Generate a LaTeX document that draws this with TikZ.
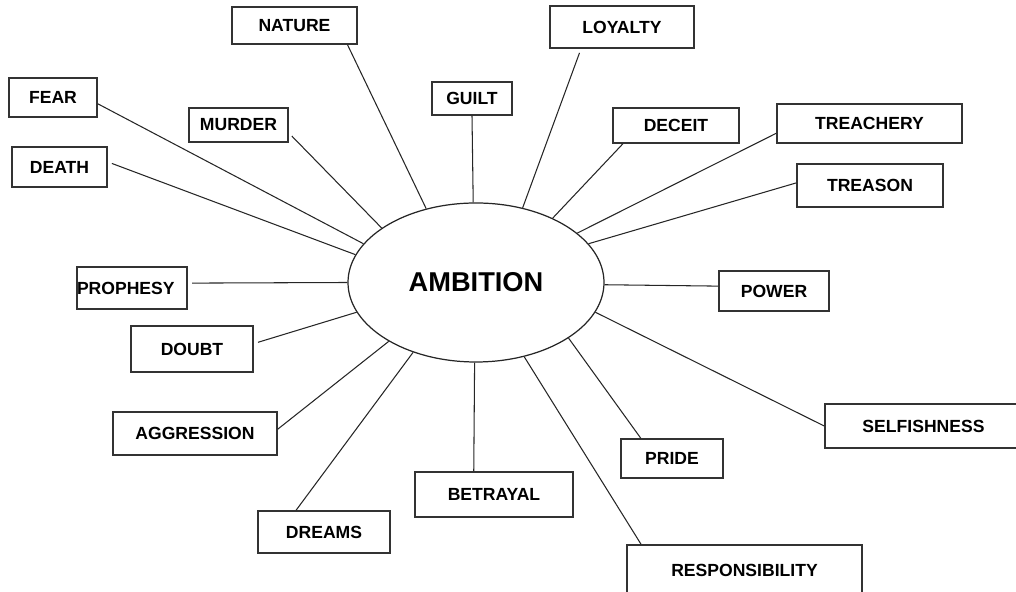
\documentclass[tikz,border=0pt]{standalone}
\usepackage{fontspec}
\setmainfont{Liberation Sans}
\usepackage{tikz}
\usetikzlibrary{shapes.geometric}

\begin{document}
\begin{tikzpicture}[
    box/.style={draw=black!80, line width=0.9pt, rectangle, inner sep=0pt,
                font=\bfseries\fontsize{10}{12}\selectfont},
    hub/.style={draw=black!85, line width=0.7pt, ellipse, inner sep=0pt,
                minimum width=5.12cm, minimum height=3.18cm,
                font=\bfseries\fontsize{15.5}{18}\selectfont},
    spoke/.style={draw=black!85, line width=0.6pt},
    gap/.style={shorten <=2.5pt}
]
    \useasboundingbox (0,0) rectangle (20.32,11.84);
    \clip (0,0) rectangle (20.32,11.84);

    % Central theme
    \node[hub] (ambition) at (9.52, 6.19) {AMBITION};

    % Top row
    \node[box, minimum width=2.50cm, minimum height=0.74cm] (nature) at (5.89, 11.33) {NATURE};
    \node[box, minimum width=2.88cm, minimum height=0.84cm] (loyalty) at (12.44, 11.30) {LOYALTY};
    \node[box, minimum width=1.60cm, minimum height=0.66cm] (guilt) at (9.44, 9.87) {GUILT};
    \node[box, minimum width=1.76cm, minimum height=0.78cm] (fear) at (1.06, 9.89) {FEAR};
    \node[box, minimum width=1.98cm, minimum height=0.68cm] (murder) at (4.77, 9.34) {MURDER};
    \node[box, minimum width=2.52cm, minimum height=0.70cm] (deceit) at (13.52, 9.33) {DECEIT};
    \node[box, minimum width=3.70cm, minimum height=0.78cm] (treachery) at (17.39, 9.37) {TREACHERY};
    \node[box, minimum width=1.90cm, minimum height=0.80cm] (death) at (1.19, 8.50) {DEATH};
    \node[box, minimum width=2.92cm, minimum height=0.86cm] (treason) at (17.40, 8.13) {TREASON};

    % Middle row
    \node[box, text width=2.20cm, align=left, minimum height=0.84cm] (prophesy) at (2.64, 6.08) {PROPHESY};
    \node[box, minimum width=2.20cm, minimum height=0.80cm] (power) at (15.48, 6.02) {POWER};
    \node[box, minimum width=2.44cm, minimum height=0.92cm] (doubt) at (3.84, 4.86) {DOUBT};

    % Bottom row
    \node[box, minimum width=3.28cm, minimum height=0.86cm] (aggression) at (3.90, 3.17) {AGGRESSION};
    \node[box, minimum width=3.94cm, minimum height=0.88cm] (selfishness) at (18.47, 3.32) {SELFISHNESS};
    \node[box, minimum width=2.04cm, minimum height=0.78cm] (pride) at (13.44, 2.67) {PRIDE};
    \node[box, minimum width=3.16cm, minimum height=0.90cm] (betrayal) at (9.88, 1.95) {BETRAYAL};
    \node[box, minimum width=2.64cm, minimum height=0.84cm] (dreams) at (6.48, 1.20) {DREAMS};
    \node[box, minimum width=4.70cm, minimum height=1.00cm] (responsibility) at (14.89, 0.44) {RESPONSIBILITY};

    % Spokes
    \draw[spoke] (nature.-20.5) -- (ambition.124.4);
    \draw[spoke, gap] (loyalty.-152.3) -- (ambition.58.9);
    \draw[spoke] (guilt.south) -- (ambition.92);
    \draw[spoke] (fear.-8.4) -- (ambition.161.8);
    \draw[spoke, gap] (murder.-9.2) -- (ambition.150.9);
    \draw[spoke] (deceit.-161.7) -- (ambition.40.4);
    \draw[spoke] (treachery.-174.75) -- (ambition.26.1);
    \draw[spoke, gap] (death.6) -- (ambition.167.2);
    \draw[spoke] (treason.178) -- (ambition.19.2);
    \draw[spoke, gap] (prophesy.5.2) -- (ambition.180);
    \draw[spoke] (power.175.3) -- (ambition.-1.8);
    \draw[spoke, gap] (doubt.5.15) -- (ambition.-166.2);
    \draw[spoke] (aggression.3.8) -- (ambition.-146.7);
    \draw[spoke] (selfishness.west) -- (ambition.-14.9);
    \draw[spoke] (pride.147) -- (ambition.-31.8);
    \draw[spoke] (betrayal.131.6) -- (ambition.-91.4);
    \draw[spoke] (dreams.142.1) -- (ambition.-132.6);
    \draw[spoke] (responsibility.166.9) -- (ambition.-57.6);
\end{tikzpicture}
\end{document}
